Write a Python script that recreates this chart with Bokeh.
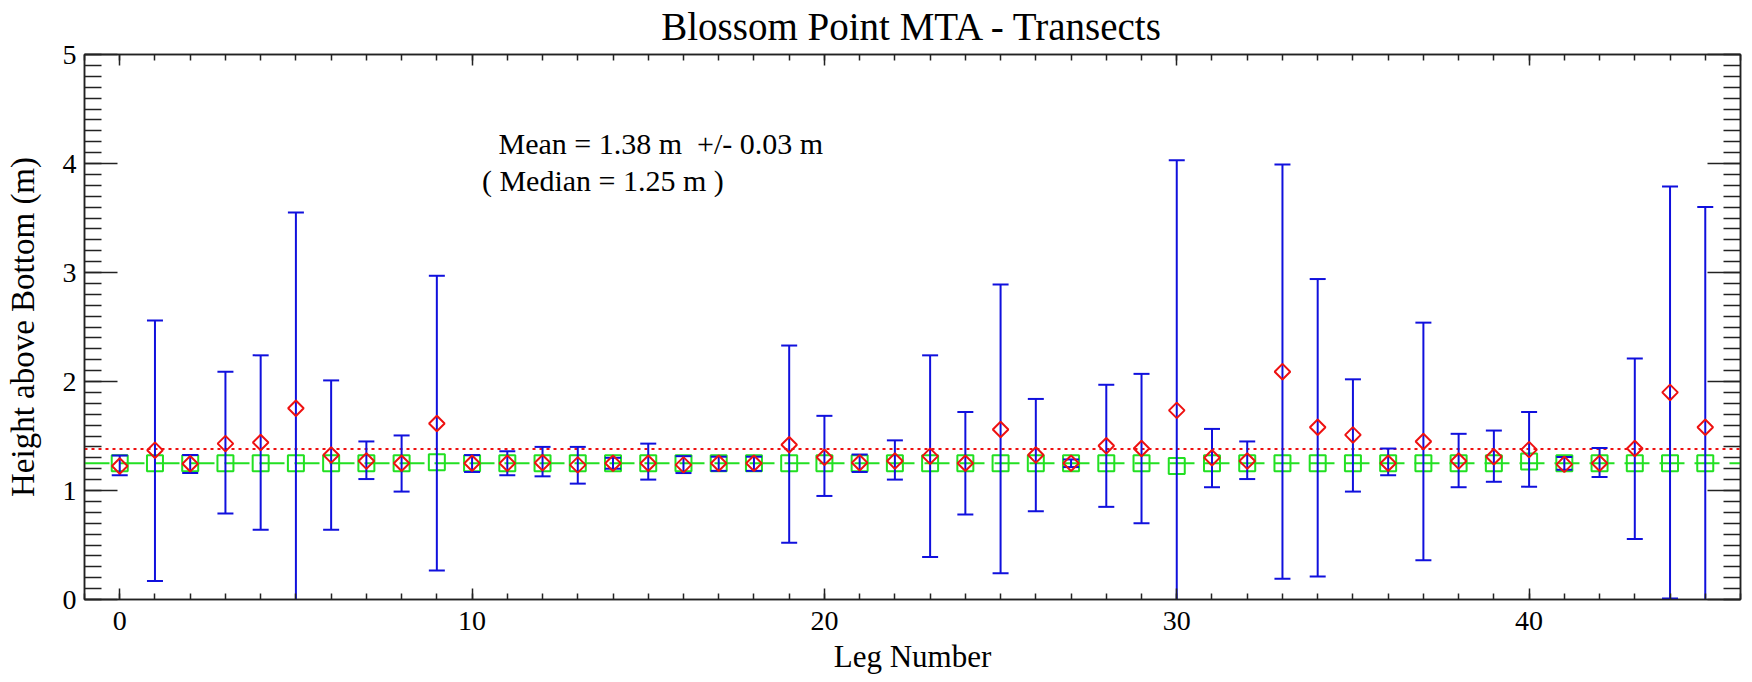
import math
from bokeh.plotting import figure
from bokeh.models import (Range1d, LinearAxis, SingleIntervalTicker, Span, Label,
                          ColumnDataSource, CustomLabelingPolicy)
from bokeh.embed import file_html
from bokeh.resources import INLINE

# ---------------- data ----------------
legs = list(range(46))
means = [1.225, 1.37, 1.245, 1.43, 1.44, 1.755, 1.325, 1.27, 1.25, 1.615,
         1.25, 1.25, 1.255, 1.235, 1.25, 1.25, 1.235, 1.25, 1.25, 1.42,
         1.305, 1.255, 1.27, 1.315, 1.25, 1.56, 1.325, 1.25, 1.41, 1.385,
         1.735, 1.30, 1.27, 2.09, 1.58, 1.51, 1.25, 1.45, 1.27, 1.31,
         1.375, 1.24, 1.25, 1.385, 1.90, 1.58]
uppers = [1.32, 2.56, 1.325, 2.09, 2.24, 3.55, 2.01, 1.45, 1.505, 2.97,
          1.325, 1.36, 1.40, 1.40, 1.30, 1.43, 1.315, 1.31, 1.31, 2.33,
          1.685, 1.33, 1.46, 2.24, 1.72, 2.89, 1.84, 1.285, 1.97, 2.07,
          4.03, 1.565, 1.45, 3.99, 2.94, 2.02, 1.385, 2.54, 1.52, 1.55,
          1.72, 1.307, 1.39, 2.21, 3.79, 3.60]
lowers = [1.14, 0.17, 1.16, 0.79, 0.64, -0.04, 0.64, 1.105, 0.99, 0.265,
          1.17, 1.14, 1.13, 1.063, 1.20, 1.10, 1.16, 1.18, 1.18, 0.52,
          0.95, 1.17, 1.10, 0.39, 0.78, 0.24, 0.81, 1.215, 0.85, 0.70,
          -0.56, 1.03, 1.105, 0.19, 0.21, 0.99, 1.14, 0.36, 1.03, 1.08,
          1.035, 1.19, 1.125, 0.555, 0.01, -0.44]
medians = [1.25, 1.25, 1.25, 1.25, 1.25, 1.25, 1.25, 1.25, 1.25, 1.26,
           1.25, 1.25, 1.25, 1.25, 1.25, 1.25, 1.25, 1.25, 1.25, 1.25,
           1.25, 1.25, 1.25, 1.25, 1.25, 1.25, 1.25, 1.25, 1.25, 1.25,
           1.225, 1.25, 1.25, 1.25, 1.25, 1.25, 1.25, 1.25, 1.25, 1.25,
           1.265, 1.25, 1.25, 1.25, 1.25, 1.25]
mean_all = 1.38
mean_err = 0.03
median_all = 1.25

title_text = "Blossom Point MTA - Transects"
x_label = "Leg Number"
y_label = "Height above Bottom (m)"

FONT = "Liberation Serif"
RED = "#ee1111"
BLUE = "#1010dd"
GREEN = "#22e022"

src = ColumnDataSource(dict(leg=legs, mean=means, up=uppers, lo=lowers, med=medians))

p = figure(width=1752, height=682, x_range=Range1d(-1, 46), y_range=Range1d(0, 5),
           output_backend="svg", toolbar_location=None, title=title_text,
           x_axis_label=x_label, y_axis_label=y_label,
           min_border_left=84, min_border_right=12, min_border_top=52, min_border_bottom=83)

p.grid.visible = False
p.outline_line_color = "#222222"
p.outline_line_width = 1.5
p.background_fill_color = "white"
p.border_fill_color = "white"

p.title.text_font = FONT
p.title.text_font_size = "39px"
p.title.text_font_style = "normal"
p.title.align = "center"
p.title.vertical_align = "top"
p.title.text_color = "black"
p.title.standoff = 9

no_labels = CustomLabelingPolicy(code="""
for (const i of indices)
  indices.unset(i)
""")


def style_axis(ax, major_in, minor_in, labels, label_size="30px"):
    ax.axis_line_color = "#222222"
    ax.axis_line_width = 1.5
    ax.major_tick_in = major_in
    ax.major_tick_out = 0
    ax.minor_tick_in = minor_in
    ax.minor_tick_out = 0
    ax.major_tick_line_color = "#222222"
    ax.minor_tick_line_color = "#222222"
    ax.major_tick_line_width = 1.5
    ax.minor_tick_line_width = 1.5
    if labels:
        ax.major_label_text_font = FONT
        ax.major_label_text_font_size = "28px"
        ax.major_label_text_color = "black"
        ax.axis_label_text_font = FONT
        ax.axis_label_text_font_size = label_size
        ax.axis_label_text_font_style = "normal"
        ax.axis_label_text_color = "black"
    else:
        ax.major_label_policy = no_labels
        ax.major_label_text_font_size = "0px"
        ax.major_label_standoff = 0


xa = p.xaxis[0]
xa.ticker = SingleIntervalTicker(interval=10, num_minor_ticks=10)
style_axis(xa, 11, 6, True, "31px")
xa.major_label_standoff = 12
xa.axis_label_standoff = 6

ya = p.yaxis[0]
ya.ticker = SingleIntervalTicker(interval=1, num_minor_ticks=10)
style_axis(ya, 33, 17, True, "33px")
ya.major_label_standoff = 8
ya.axis_label_standoff = 19

top = LinearAxis(ticker=SingleIntervalTicker(interval=10, num_minor_ticks=10))
style_axis(top, 11, 6, False)
p.add_layout(top, "above")
right = LinearAxis(ticker=SingleIntervalTicker(interval=1, num_minor_ticks=10))
style_axis(right, 33, 17, False)
p.add_layout(right, "right")

# reference lines: overall mean (dotted red) and overall median (dashed green)
p.add_layout(Span(location=mean_all, dimension="width", line_color=RED,
                  line_width=2, line_dash="3 4", level="underlay"))
p.add_layout(Span(location=median_all, dimension="width", line_color=GREEN,
                  line_width=2, line_dash="25 10", level="underlay"))

# medians (green squares)
p.scatter("leg", "med", source=src, marker="square", size=16, fill_color=None,
          line_color=GREEN, line_width=2)
# error bars
p.segment(x0="leg", y0="lo", x1="leg", y1="up", source=src, line_color=BLUE, line_width=2)
p.scatter("leg", "up", source=src, marker="dash", size=16, line_color=BLUE, line_width=2)
p.scatter("leg", "lo", source=src, marker="dash", size=16, line_color=BLUE, line_width=2)
# means (red diamonds)
p.scatter("leg", "mean", source=src, marker="square", angle=math.pi / 4, size=11,
          fill_color=None, line_color=RED, line_width=2)

# in-plot statistics text
p.add_layout(Label(x=10.75, y=4.18,
                   text=f"Mean = {mean_all:.2f} m\u00a0 +/- {mean_err:.2f} m",
                   text_font=FONT, text_font_size="30px", text_color="black",
                   text_baseline="alphabetic"))
p.add_layout(Label(x=10.28, y=3.845, text=f"( Median = {median_all:.2f} m )",
                   text_font=FONT, text_font_size="30px", text_color="black",
                   text_baseline="alphabetic"))

open("out.html", "w").write(file_html(p, INLINE))
